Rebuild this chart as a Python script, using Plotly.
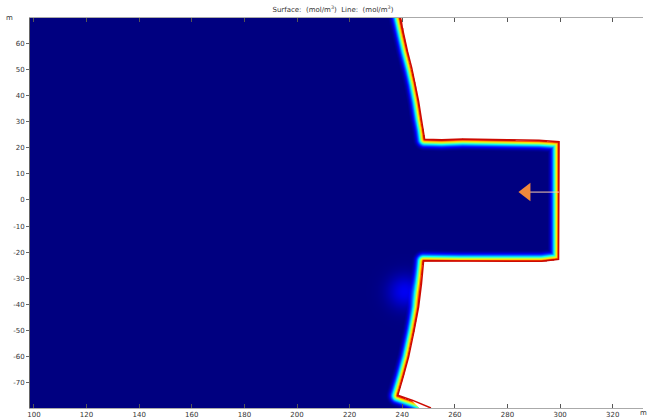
import numpy as np
import plotly.graph_objects as go

# Boundary of the domain (m), top to bottom
BOUND_X = [239.2, 240.6, 242.0, 243.6, 245.0, 246.2, 247.2, 248.0, 248.5, 255.0, 263.0, 280.0, 292.0, 299.6, 299.6, 299.4, 293.0, 280.0, 262.0, 248.1, 247.3, 246.2, 244.4, 242.4, 240.4, 238.3, 244.0, 250.9]
BOUND_Y = [69.6, 63.0, 56.8, 50.5, 44.2, 37.8, 31.3, 27.0, 23.2, 23.0, 23.3, 23.0, 22.8, 22.3, -22.3, -22.7, -23.5, -23.5, -23.5, -23.3, -32.0, -41.0, -50.5, -60.1, -67.5, -74.7, -76.7, -79.6]

# Concentration profile vs. distance from boundary (normalised)
PROFILE_DIST = [0.0, 0.3, 0.6, 1.0, 1.4, 1.8, 2.2, 2.6, 3.1, 3.7, 4.4]
PROFILE_VAL = [1.0, 0.84, 0.72, 0.61, 0.49, 0.37, 0.26, 0.17, 0.09, 0.03, 0.0]

# faint spot
SPOT_X, SPOT_Y, SPOT_R, SPOT_PEAK = 241.0, -35.0, 4.5, 0.10

X_TICKS = [100, 120, 140, 160, 180, 200, 220, 240, 260, 280, 300, 320]
Y_TICKS = [60, 50, 40, 30, 20, 10, 0, -10, -20, -30, -40, -50, -60, -70]

ARROW_TIP = (285.0, 3.0)
ARROW_END = (299.6, 3.0)

XR = [98.5, 331.5]
YR = [-79.6, 69.6]

step = 0.35
gx = np.arange(XR[0], XR[1] + step, step)
gy = np.arange(YR[0], YR[1] + step, step)
GX, GY = np.meshgrid(gx, gy)

bx = np.array(BOUND_X)
by = np.array(BOUND_Y)

# polygon: boundary extended past the plot edges + left edge
px_ext = np.concatenate([bx, [XR[0] - 5, XR[0] - 5]])
py_ext = np.concatenate([by, [YR[0] - 5, YR[1] + 5]])
py_ext[0] = YR[1] + 5
py_ext[len(bx) - 1] = YR[0] - 5

inside = np.zeros(GX.shape, dtype=bool)
n = len(px_ext)
j = n - 1
for i in range(n):
    xi, yi = px_ext[i], py_ext[i]
    xj, yj = px_ext[j], py_ext[j]
    cond = ((yi > GY) != (yj > GY))
    xint = (xj - xi) * (GY - yi) / (yj - yi + 1e-12) + xi
    inside ^= cond & (GX < xint)
    j = i

dist = np.full(GX.shape, 1e9)
for k in range(len(bx) - 1):
    x0, y0, x1, y1 = bx[k], by[k], bx[k + 1], by[k + 1]
    dx, dy = x1 - x0, y1 - y0
    t = ((GX - x0) * dx + (GY - y0) * dy) / (dx * dx + dy * dy)
    t = np.clip(t, 0, 1)
    d = np.hypot(GX - (x0 + t * dx), GY - (y0 + t * dy))
    dist = np.minimum(dist, d)

z = np.interp(dist, PROFILE_DIST, PROFILE_VAL)
z = z + SPOT_PEAK * np.exp(-((GX - SPOT_X) ** 2 + (GY - SPOT_Y) ** 2) / (2 * SPOT_R ** 2))
z = np.clip(z, 0, 1)
z = np.where(inside, z, np.nan)

jet = [[0, 'rgb(0,0,128)'], [0.11, 'rgb(0,0,255)'], [0.36, 'rgb(0,255,255)'],
       [0.62, 'rgb(255,255,0)'], [0.87, 'rgb(255,0,0)'], [1, 'rgb(128,0,0)']]

fig = go.Figure()
fig.add_trace(go.Heatmap(x=gx, y=gy, z=z, colorscale=jet, zmin=0, zmax=1,
                         showscale=False, hoverinfo='skip', zsmooth='fast'))
fig.add_trace(go.Scatter(x=BOUND_X, y=BOUND_Y, mode='lines',
                         line=dict(color='rgb(205,10,0)', width=1.5), hoverinfo='skip'))
fig.add_trace(go.Scatter(x=[ARROW_TIP[0] + 2, ARROW_END[0]], y=[ARROW_TIP[1], ARROW_END[1]], mode='lines',
                         line=dict(color='rgb(250,205,175)', width=1), hoverinfo='skip'))
fig.add_trace(go.Scatter(x=[ARROW_TIP[0] + 2.2], y=[ARROW_TIP[1]], mode='markers',
                         marker=dict(symbol='triangle-left', size=16, color='rgb(240,135,60)',
                                     line=dict(width=0)), hoverinfo='skip'))

axis_font = dict(family='DejaVu Sans', size=7, color='#333')
fig.update_layout(
    width=649, height=419,
    margin=dict(l=30, r=6, t=18, b=11, autoexpand=False),
    paper_bgcolor='white', plot_bgcolor='white',
    showlegend=False,
    title=dict(text='Surface:  (mol/m<sup>3</sup>)  Line:  (mol/m<sup>3</sup>)', x=0.513, xanchor='center',
               y=0.977, yanchor='middle', font=dict(family='DejaVu Sans', size=7, color='#333')),
    xaxis=dict(range=XR, tickvals=X_TICKS, ticktext=[str(v) for v in X_TICKS], automargin=False,
               showgrid=False, zeroline=False, showline=True, linecolor='#aaa', linewidth=1,
               mirror='ticks', ticks='inside', ticklen=4, tickcolor='#555',
               tickfont=axis_font),
    yaxis=dict(range=YR, tickvals=Y_TICKS, ticktext=[str(v) for v in Y_TICKS], automargin=False,
               showgrid=False, zeroline=False, showline=True, linecolor='#666', linewidth=1,
               ticks='outside', ticklen=3, tickcolor='#666', tickfont=axis_font),
    annotations=[
        dict(text='m', xref='paper', yref='paper', x=-0.033, y=1.0, xanchor='center', yanchor='middle',
             showarrow=False, font=axis_font),
        dict(text='m', xref='paper', yref='paper', x=1.0016, y=-0.0128, xanchor='center', yanchor='middle',
             showarrow=False, font=axis_font),
    ],
)
fig.write_html('out.html', config={'displayModeBar': False},
               post_script="document.body.style.margin='0';document.body.style.padding='0';"
                           "document.body.style.overflow='hidden';")
